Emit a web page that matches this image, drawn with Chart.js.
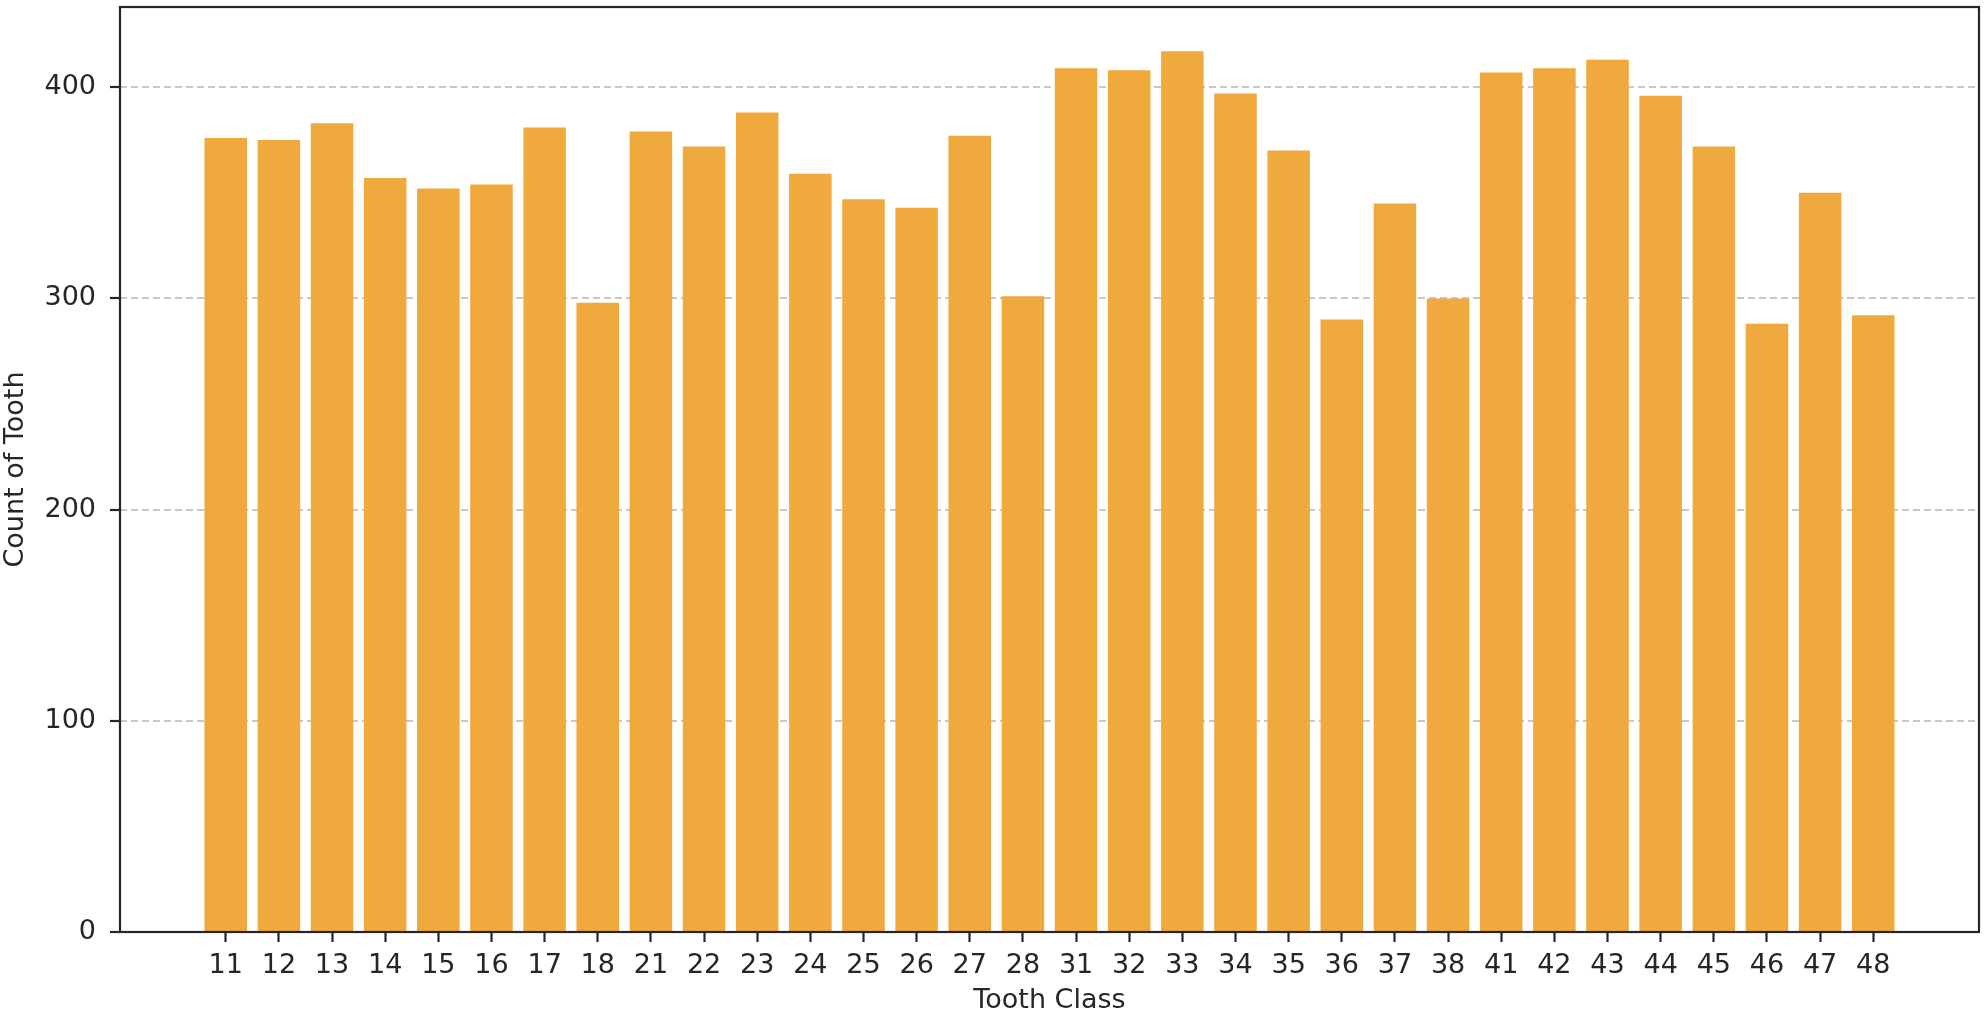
<!DOCTYPE html>
<html>
<head>
<meta charset="utf-8">
<script src="https://cdn.jsdelivr.net/npm/chart.js@4.4.1/dist/chart.umd.min.js"></script>
<style>
  html, body { margin: 0; padding: 0; background: #fff; }
</style>
</head>
<body>
<canvas id="toothChart" width="1985" height="1027"></canvas>
<script>
// tooth classes and how many of each were counted
const toothClasses = ['11', '12', '13', '14', '15', '16', '17', '18',
                      '21', '22', '23', '24', '25', '26', '27', '28',
                      '31', '32', '33', '34', '35', '36', '37', '38',
                      '41', '42', '43', '44', '45', '46', '47', '48'];
const toothCounts = [376, 375, 383, 357, 352, 354, 381, 298,
                     379, 372, 388, 359, 347, 343, 377, 301,
                     409, 408, 417, 397, 370, 290, 345, 300,
                     407, 409, 413, 396, 372, 288, 350, 292];
const yTicks = [0, 100, 200, 300, 400];

const FONT = 'DejaVu Sans';
const TXT = '#262626';

// draws the box around the plot like matplotlib spines
const frame = {
  id: 'frame',
  afterDraw(chart) {
    const { ctx, chartArea: a } = chart;
    ctx.save();
    ctx.strokeStyle = TXT;
    ctx.lineWidth = 2.2;
    ctx.strokeRect(a.left, a.top, a.right - a.left, a.bottom - a.top);
    ctx.restore();
  }
};

const ctx = document.getElementById('toothChart').getContext('2d');
new Chart(ctx, {
  type: 'bar',
  data: {
    datasets: [{
      label: 'Count of Tooth',
      data: toothCounts.map((c, i) => ({ x: i, y: c })),
      backgroundColor: '#F0A93C',
      borderWidth: 0,
      barPercentage: 0.8,
      categoryPercentage: 1.0
    }]
  },
  options: {
    responsive: false,
    animation: false,
    devicePixelRatio: 1,
    layout: { padding: { left: 0, right: 6, top: 7, bottom: 0 } },
    plugins: {
      legend: { display: false },
      tooltip: { enabled: false }
    },
    scales: {
      x: {
        type: 'linear',
        min: -1.99,
        max: 32.99,
        offset: false,
        afterBuildTicks(s) { s.ticks = toothClasses.map((_, i) => ({ value: i })); },
        afterFit(s) { s.height = 95; s.paddingLeft = 0; s.paddingRight = 0; },
        ticks: {
          autoSkip: false,
          maxRotation: 0,
          padding: 8,
          color: TXT,
          font: { family: FONT, size: 27 },
          callback: (v) => toothClasses[v]
        },
        grid: {
          offset: false,
          drawOnChartArea: false,
          drawTicks: true,
          tickLength: 10,
          tickWidth: 2.2,
          tickColor: TXT
        },
        border: { display: false },
        title: {
          display: true,
          text: 'Tooth Class',
          color: TXT,
          font: { family: FONT, size: 27 },
          padding: { top: 0, bottom: 10 }
        }
      },
      y: {
        min: 0,
        max: 438,
        z: 1,
        afterBuildTicks(s) { s.ticks = yTicks.map(v => ({ value: v })); },
        afterFit(s) { s.width = 120; s.paddingTop = 0; s.paddingBottom = 0; },
        ticks: {
          padding: 14,
          color: TXT,
          font: { family: FONT, size: 27 }
        },
        grid: {
          color: 'rgba(176,176,176,0.7)',
          lineWidth: 2,
          tickLength: 10,
          tickWidth: 2.2,
          tickColor: TXT,
          tickBorderDash: []
        },
        border: { display: false, dash: [7, 4] },
        title: {
          display: true,
          text: 'Count of Tooth',
          color: TXT,
          font: { family: FONT, size: 27 },
          padding: { top: 0, bottom: 0 }
        }
      }
    }
  },
  plugins: [frame]
});
</script>
</body>
</html>
